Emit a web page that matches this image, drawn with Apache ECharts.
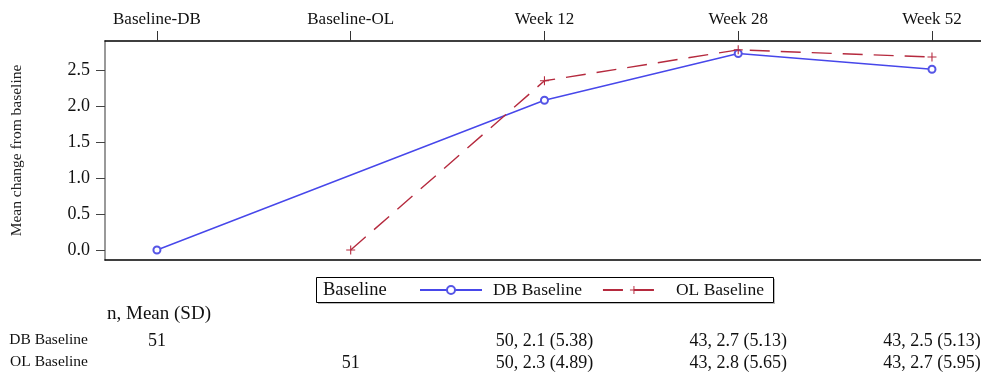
<!DOCTYPE html>
<html>
<head>
<meta charset="utf-8">
<script src="https://cdn.jsdelivr.net/npm/echarts@6/dist/echarts.min.js"></script>
<style>html,body{margin:0;padding:0;background:#fff}#c{width:981px;height:373px}</style>
</head>
<body>
<div id="c"></div>
<script>
const categories = ['Baseline-DB', 'Baseline-OL', 'Week 12', 'Week 28', 'Week 52'];
const dbValues = [0, null, 2.08, 2.73, 2.51];
const olValues = [null, 0, 2.35, 2.78, 2.68];
const yTicks = [0, 0.5, 1.0, 1.5, 2.0, 2.5];
const dbTable = ['51', '', '50, 2.1 (5.38)', '43, 2.7 (5.13)', '43, 2.5 (5.13)'];
const olTable = ['', '51', '50, 2.3 (4.89)', '43, 2.8 (5.65)', '43, 2.7 (5.95)'];
const seriesNames = ['DB Baseline', 'OL Baseline'];

const FONT = 'Liberation Serif';
const idx = categories.map((c, i) => i);
const toPairs = arr => arr.map((v, i) => [i, v]).filter(p => p[1] !== null);

const baseX = {
  type: 'value', min: -0.268, max: 4.253, splitLine: { show: false }
};

const chart = echarts.init(document.getElementById('c'));
chart.setOption({
  animation: false,
  backgroundColor: '#fff',
  grid: { left: 105, right: 0, top: 41, bottom: 113, containLabel: false, outerBoundsMode: 'none' },
  xAxis: [
    Object.assign({}, baseX, {
      position: 'top',
      axisLine: { show: true, onZero: false, lineStyle: { color: '#000', width: 1.5 } },
      axisTick: { show: true, length: 10, customValues: idx, lineStyle: { color: '#333' } },
      axisLabel: { show: true, customValues: idx, margin: 13, fontFamily: FONT, fontSize: 17, color: '#111',
        formatter: v => categories[Math.round(v)] }
    }),
    Object.assign({}, baseX, {
      position: 'bottom',
      axisLine: { show: true, onZero: false, lineStyle: { color: '#000', width: 1.5 } },
      axisTick: { show: false },
      axisLabel: { show: false }
    }),
    Object.assign({}, baseX, {
      position: 'bottom', offset: 64,
      axisLine: { show: false, onZero: false }, axisTick: { show: false },
      axisLabel: { show: true, customValues: idx, margin: 8, fontFamily: FONT, fontSize: 18, color: '#111',
        formatter: v => dbTable[Math.round(v)] }
    }),
    Object.assign({}, baseX, {
      position: 'bottom', offset: 86,
      axisLine: { show: false, onZero: false }, axisTick: { show: false },
      axisLabel: { show: true, customValues: idx, margin: 8, fontFamily: FONT, fontSize: 18, color: '#111',
        formatter: v => olTable[Math.round(v)] }
    })
  ],
  yAxis: {
    type: 'value', min: -0.139, max: 2.903,
    splitLine: { show: false },
    axisLine: { show: true, onZero: false, lineStyle: { color: '#777', width: 1.5 } },
    axisTick: { show: true, length: 9, customValues: yTicks, lineStyle: { color: '#444' } },
    axisLabel: { customValues: yTicks, margin: 15, fontFamily: FONT, fontSize: 18, color: '#111',
      formatter: v => v.toFixed(1) },
    name: 'Mean change from baseline', nameLocation: 'middle', nameRotate: 90, nameGap: 80,
    nameTextStyle: { fontFamily: FONT, fontSize: 15.5, color: '#222' }
  },
  legend: {
    left: 419, top: 281, padding: 0, itemWidth: 62, itemHeight: 10, itemGap: 20,
    data: seriesNames,
    textStyle: { fontFamily: FONT, fontSize: 17.5, color: '#111', padding: [0, 0, 0, 6] }
  },
  graphic: [
    { type: 'rect', left: 318, top: 279, z: -1, shape: { width: 457, height: 25 }, style: { fill: '#bbb' }, silent: true },
    { type: 'rect', left: 316, top: 277, z: 0, shape: { width: 457, height: 25 }, style: { fill: '#fff', stroke: '#000', lineWidth: 1 }, silent: true },
    { type: 'text', left: 323, top: 281, z: 10, style: { text: 'Baseline', font: '18.5px "Liberation Serif"', fill: '#111' } },
    { type: 'text', left: 107, top: 305, style: { text: 'n, Mean (SD)', font: '19px "Liberation Serif"', fill: '#111' } },
    { type: 'text', right: 893, top: 332, style: { text: 'DB Baseline', font: '15.5px "Liberation Serif"', fill: '#111', align: 'right' } },
    { type: 'text', right: 893, top: 354, style: { text: 'OL Baseline', font: '15.5px "Liberation Serif"', fill: '#111', align: 'right' } }
  ],
  series: [
    {
      name: seriesNames[0], type: 'line', xAxisIndex: 0, data: toPairs(dbValues),
      symbol: 'emptyCircle', symbolSize: 7,
      itemStyle: { color: '#5555e6', borderWidth: 1.2 },
      lineStyle: { color: '#4747ea', width: 1.4 }
    },
    {
      name: seriesNames[1], type: 'line', xAxisIndex: 0, data: toPairs(olValues),
      symbol: 'path://M4.4,0h1.2v4.4h4.4v1.2h-4.4v4.4h-1.2v-4.4h-4.4v-1.2h4.4z', symbolSize: 9,
      itemStyle: { color: '#b52a3e' },
      lineStyle: { color: '#b52a3e', width: 1.4, type: [20, 11] }
    }
  ]
});
</script>
</body>
</html>
